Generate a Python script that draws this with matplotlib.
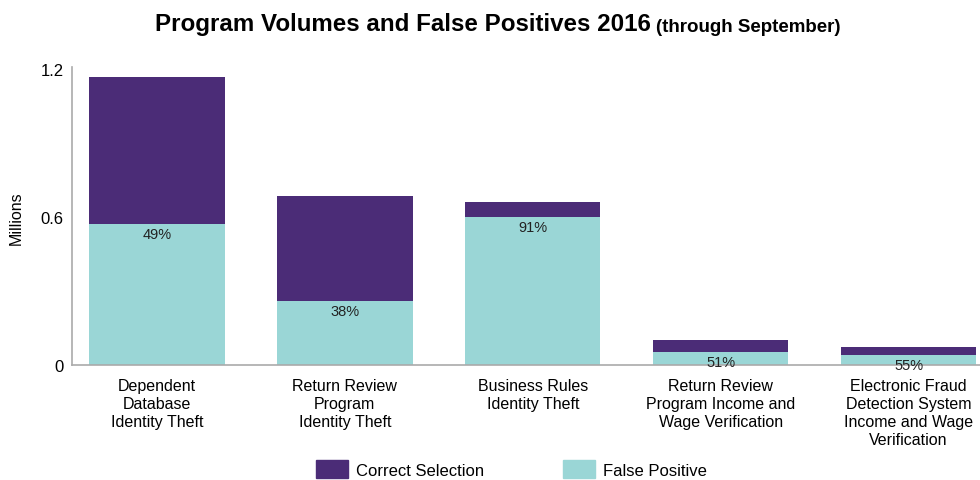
import matplotlib
matplotlib.use("Agg")
import matplotlib.pyplot as plt
from matplotlib.patches import Patch

categories = [
    "Dependent\nDatabase\nIdentity Theft",
    "Return Review\nProgram\nIdentity Theft",
    "Business Rules\nIdentity Theft",
    "Return Review\nProgram Income and\nWage Verification",
    "Electronic Fraud\nDetection System\nIncome and Wage\nVerification",
]
false_positive = [0.572, 0.259, 0.600, 0.051, 0.040]
correct_selection = [0.595, 0.426, 0.061, 0.049, 0.033]
pct_labels = ["49%", "38%", "91%", "51%", "55%"]
yticks = [0, 0.6, 1.2]
ytick_labels = ["0", "0.6", "1.2"]

PURPLE = "#4B2C77"
TEAL = "#9AD6D6"

plt.rcParams["font.family"] = ["Liberation Sans", "DejaVu Sans"]

fig = plt.figure(figsize=(9.8, 4.81), dpi=100)
ax = fig.add_axes([0.0735, 0.239, 0.9265, 0.615])

x = list(range(len(categories)))
w = 0.72
ax.bar(x, false_positive, width=w, color=TEAL, label="False Positive")
ax.bar(x, correct_selection, width=w, bottom=false_positive, color=PURPLE,
       label="Correct Selection")

for xi, fp, lab in zip(x, false_positive, pct_labels):
    ax.text(xi, fp - 0.012, lab, ha="center", va="top", fontsize=10.5, color="#222222")

ax.set_xlim(-0.452, 4.38)
ax.set_ylim(0, 1.2)
ax.set_yticks(yticks)
ax.set_yticklabels(ytick_labels, fontsize=12)
ax.set_xticks(x)
ax.set_xticklabels(categories, fontsize=11.5, linespacing=1.25)
ax.tick_params(axis="x", length=0, pad=9)
ax.tick_params(axis="y", length=0, pad=6)
for s in ["top", "right"]:
    ax.spines[s].set_visible(False)
for s in ["left", "bottom"]:
    ax.spines[s].set_color("#AAAAAA")
    ax.spines[s].set_linewidth(1.2)
ax.spines["left"].set_bounds(0, 1.21)
ax.set_ylabel("Millions", fontsize=11.5, labelpad=12)

handles = [Patch(color=PURPLE, label="Correct Selection"),
           Patch(color=TEAL, label="False Positive")]
fig.legend(handles=handles, loc="lower center", bbox_to_anchor=(0.522, -0.028),
           ncol=2, frameon=False, fontsize=12, handlelength=1.9, handleheight=1.3,
           columnspacing=4.7, handletextpad=0.5)

fig.text(651 / 980, 1 - 25 / 481, "Program Volumes and False Positives 2016",
         ha="right", va="center", fontsize=17.4, fontweight="bold")
fig.text(656 / 980, 1 - 27 / 481, "(through September)",
         ha="left", va="center", fontsize=13.5, fontweight="bold")

fig.savefig("out.png", dpi=100)
